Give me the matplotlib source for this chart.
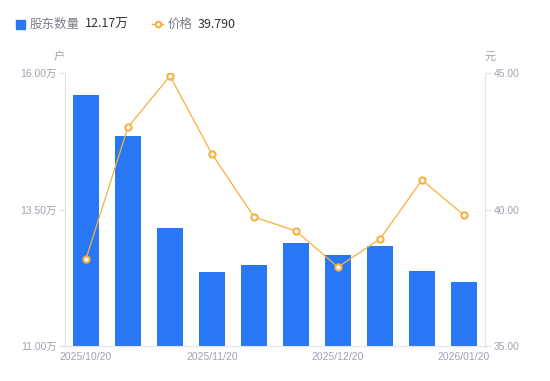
import matplotlib
matplotlib.use('Agg')
import matplotlib.pyplot as plt
from matplotlib.lines import Line2D
import numpy as np

plt.rcParams['font.family'] = ['Liberation Sans', 'Noto Sans CJK SC', 'DejaVu Sans']

dates = ['2025/10/20', '2025/10/31', '2025/11/10', '2025/11/20', '2025/11/30',
         '2025/12/10', '2025/12/20', '2025/12/31', '2026/01/10', '2026/01/20']
holders = [15.60, 14.85, 13.16, 12.36, 12.48, 12.89, 12.67, 12.83, 12.37, 12.17]  # 万户
price = [38.19, 43.02, 44.89, 42.03, 39.73, 39.21, 37.89, 38.92, 41.08, 39.79]

blue = '#2878f5'
orange = '#f5b13d'
grey = '#a0a3b1'
axis_c = '#e3e3e6'
cjk = ['Noto Sans CJK SC', 'DejaVu Sans']

fig = plt.figure(figsize=(5.5, 3.81), dpi=100)
ax = fig.add_axes([65/550, 35/381, 420/550, 273/381])
ax2 = ax.twinx()

x = np.arange(len(dates))
ax.bar(x, holders, width=0.6, color=blue, zorder=2)
ax.set_ylim(11, 16)
ax.set_xlim(-0.5, len(dates) - 0.5)
ax.set_yticks([11, 13.5, 16])
ax.set_yticklabels(['%.2f万' % v for v in [11, 13.5, 16]])
ax.set_xticks(x[::3])
ax.set_xticklabels(dates[::3])

ax2.plot(x, price, color=orange, lw=0.9, marker='o', ms=4.5,
         mfc='white', mec=orange, mew=1.5, zorder=3)
ax2.set_ylim(35, 45)
ax2.set_yticks([35, 40, 45])
ax2.set_yticklabels(['%.2f' % v for v in [35, 40, 45]])

for a in (ax, ax2):
    for s in a.spines.values():
        s.set_visible(False)
    a.tick_params(colors=grey, labelsize=7.5, length=4, width=0.8, color=axis_c)
ax.spines['left'].set_visible(True)
ax.spines['left'].set_color(axis_c)
ax.spines['bottom'].set_visible(True)
ax.spines['bottom'].set_color(axis_c)
ax2.spines['right'].set_visible(True)
ax2.spines['right'].set_color(axis_c)
ax.tick_params(axis='x', length=0, pad=4)
ax.tick_params(axis='y', pad=2)
ax2.tick_params(axis='y', pad=2)

fig.text(59/550, 1 - 57/381, '户', color=grey, fontsize=8, ha='center', va='center', family=cjk)
fig.text(490/550, 1 - 57/381, '元', color=grey, fontsize=8, ha='center', va='center', family=cjk)

# legend row
ly = 1 - 24/381
fig.patches.append(plt.Rectangle((16/550, 1 - 29/381), 9/550, 9/381, transform=fig.transFigure,
                                 color=blue, figure=fig))
fig.text(30/550, ly, '股东数量', color='#7b7e8c', fontsize=9, va='center', family=cjk)
fig.text(85/550, ly, '12.17万', color='#333333', fontsize=9, va='center', family=cjk)
fig.lines.append(Line2D([152/550, 163/550], [ly, ly], transform=fig.transFigure,
                        color=orange, lw=1, figure=fig))
fig.lines.append(Line2D([157.5/550], [ly], transform=fig.transFigure, marker='o', ms=4,
                        mfc='white', mec=orange, mew=1.5, figure=fig))
fig.text(168/550, ly, '价格', color='#7b7e8c', fontsize=9, va='center', family=cjk)
fig.text(198/550, ly, '39.790', color='#333333', fontsize=9, va='center', family=cjk)

fig.savefig('out.png', dpi=100)
